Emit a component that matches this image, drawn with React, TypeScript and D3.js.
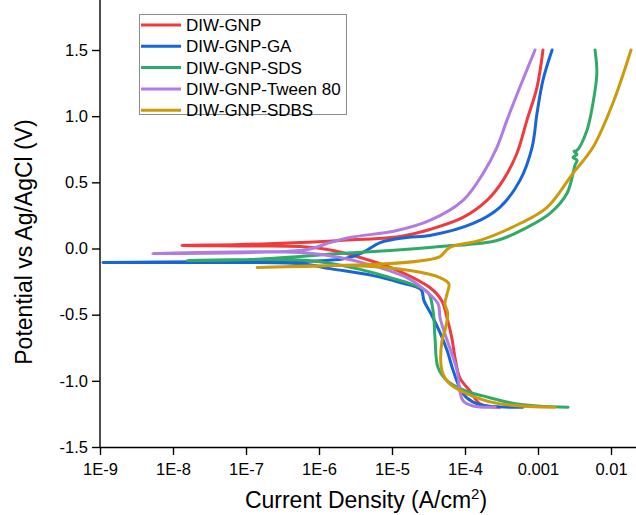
import React, { useRef, useEffect } from 'react';
import * as d3 from 'd3';

// [current density (A/cm2), potential (V)] in scan order: cathodic end -> Ecorr -> anodic end
const diwGnp: [number, number][] = [
  [3.0e-4, -1.2], [1.6e-4, -1.174], [1.17e-4, -1.076], [8.5e-5, -0.977], [7.3e-5, -0.826],
  [6.6e-5, -0.674], [5.8e-5, -0.545], [4.8e-5, -0.394], [3.3e-5, -0.295], [1.29e-5, -0.174],
  [5.0e-6, -0.091], [1.56e-6, -0.015], [5.5e-7, 0.015], [8.3e-8, 0.019], [1.33e-8, 0.023],
  [8.3e-8, 0.03], [5.5e-7, 0.045], [1.94e-6, 0.061], [1.29e-5, 0.091], [3.3e-5, 0.144],
  [9.4e-5, 0.235], [2.0e-4, 0.364], [3.32e-4, 0.515], [5.15e-4, 0.72], [7.06e-4, 0.97],
  [9.7e-4, 1.22], [1.17e-3, 1.5],
];

const diwGnpGa: [number, number][] = [
  [6.2e-4, -1.2], [1.6e-4, -1.18], [1.06e-4, -1.129], [8.5e-5, -1.053], [6.9e-5, -0.924],
  [5.7e-5, -0.773], [4.55e-5, -0.636], [3.53e-5, -0.508], [2.74e-5, -0.394], [2.5e-5, -0.311],
  [1.29e-5, -0.258], [5.5e-6, -0.205], [1.42e-6, -0.152], [5.5e-7, -0.114], [2.34e-8, -0.106],
  [1.1e-9, -0.106], [2.34e-8, -0.1], [5.5e-7, -0.098], [2.27e-6, -0.076], [4.0e-6, -0.03],
  [6.9e-6, 0.045], [1.6e-5, 0.083], [3.3e-5, 0.098], [1.29e-4, 0.189], [3.0e-4, 0.311],
  [5.66e-4, 0.515], [8.3e-4, 0.765], [9.7e-4, 1.023], [1.17e-3, 1.273], [1.56e-3, 1.5],
];

const diwGnpSds: [number, number][] = [
  [2.58e-3, -1.2], [5.15e-4, -1.174], [1.77e-4, -1.114], [1.06e-4, -1.08], [5.7e-5, -1.0],
  [4.27e-5, -0.9], [3.88e-5, -0.674], [3.65e-5, -0.47], [3.11e-5, -0.333], [1.77e-5, -0.265],
  [9.4e-6, -0.22], [3.32e-6, -0.152], [6.9e-7, -0.091], [1.56e-8, -0.091],
  [1.13e-7, -0.083], [1.94e-6, -0.038], [9.4e-6, -0.015], [4.55e-5, 0.015], [2.74e-4, 0.061],
  [7.06e-4, 0.159], [1.46e-3, 0.265], [2.5e-3, 0.417], [3.21e-3, 0.629], [3.42e-3, 0.667],
  [3.01e-3, 0.689], [3.42e-3, 0.712], [3.11e-3, 0.735], [3.42e-3, 0.742], [4.69e-3, 0.894],
  [5.66e-3, 1.098], [6.4e-3, 1.326], [6.04e-3, 1.5],
];

const diwGnpTween: [number, number][] = [
  [2.58e-4, -1.2], [1.29e-4, -1.19], [9.4e-5, -1.15], [8.5e-5, -1.076], [7.8e-5, -0.924],
  [6.6e-5, -0.795], [5.3e-5, -0.644], [4.55e-5, -0.523], [4.27e-5, -0.417], [2.66e-5, -0.303],
  [1.6e-5, -0.22], [5.5e-6, -0.129], [1.94e-6, -0.068], [5.5e-7, -0.03], [5.3e-9, -0.038],
  [1.13e-7, -0.03], [6.9e-7, -0.008], [1.42e-6, 0.045], [2.66e-6, 0.083], [1.17e-5, 0.136],
  [3.3e-5, 0.212], [9.4e-5, 0.364], [1.77e-4, 0.568], [2.74e-4, 0.765], [3.76e-4, 0.97],
  [5.66e-4, 1.22], [9.1e-4, 1.5],
];

const diwGnpSdbs: [number, number][] = [
  [1.71e-3, -1.2], [3.0e-4, -1.174], [1.46e-4, -1.129], [6.2e-5, -1.023], [4.84e-5, -0.924],
  [4.84e-5, -0.697], [5.3e-5, -0.621], [5.8e-5, -0.492], [5.3e-5, -0.417], [5.7e-5, -0.341],
  [6.0e-5, -0.265], [4.55e-5, -0.22], [1.77e-5, -0.167], [2.66e-6, -0.129], [1.42e-7, -0.144],
  [5.5e-7, -0.136], [9.4e-6, -0.114], [3.3e-5, -0.083], [4.55e-5, -0.061], [6.2e-5, 0.008],
  [1.6e-4, 0.061], [5.66e-4, 0.189], [1.33e-3, 0.311], [3.01e-3, 0.568], [5.66e-3, 0.765],
  [1.06e-2, 1.098], [1.88e-2, 1.5],
];

const seriesNames = ['DIW-GNP', 'DIW-GNP-GA', 'DIW-GNP-SDS', 'DIW-GNP-Tween 80', 'DIW-GNP-SDBS'];
const seriesColors = ['#ef3b3d', '#1766d8', '#2faa68', '#b07ce0', '#cc9a0a'];
const seriesData = [diwGnp, diwGnpGa, diwGnpSds, diwGnpTween, diwGnpSdbs];

const xTicks = [1e-9, 1e-8, 1e-7, 1e-6, 1e-5, 1e-4, 1e-3, 1e-2];
const xTickLabels = ['1E-9', '1E-8', '1E-7', '1E-6', '1E-5', '1E-4', '0.001', '0.01'];
const yTicks = [-1.5, -1.0, -0.5, 0.0, 0.5, 1.0, 1.5];
const yTickLabels = ['-1.5', '-1.0', '-0.5', '0.0', '0.5', '1.0', '1.5'];
const yMinorTicks = [-1.25, -0.75, -0.25, 0.25, 0.75, 1.25, 1.75];

const FONT = '"Liberation Sans", Arial, sans-serif';

const App = () => {
  const ref = useRef<SVGSVGElement | null>(null);

  useEffect(() => {
    if (!ref.current) return;
    const svg = d3.select(ref.current);
    svg.selectAll('*').remove();

    const left = 100, right = 636, bottom = 447;
    const x = d3.scaleLog().domain([1e-9, 0.022]).range([left, right]);
    const y = d3.scaleLinear().domain([-1.5, 1.5]).range([bottom, 50]);

    svg.append('clipPath').attr('id', 'plot-clip')
      .append('rect').attr('x', left).attr('y', 0).attr('width', right - left).attr('height', bottom);

    // curves
    const line = d3.line<[number, number]>()
      .x(d => x(d[0]))
      .y(d => y(d[1]))
      .curve(d3.curveCatmullRom.alpha(0.5));

    const g = svg.append('g').attr('clip-path', 'url(#plot-clip)');
    seriesData.forEach((s, i) => {
      g.append('path')
        .datum(s)
        .attr('d', line)
        .attr('fill', 'none')
        .attr('stroke', seriesColors[i])
        .attr('stroke-width', 3)
        .attr('stroke-linejoin', 'round')
        .attr('stroke-linecap', 'round');
    });

    // x axis
    const minorX: number[] = [];
    for (let e = -9; e < -1; e++) {
      for (let m = 2; m <= 9; m++) {
        const v = m * Math.pow(10, e);
        if (v < 0.022) minorX.push(v);
      }
    }
    const xg = svg.append('g').attr('transform', `translate(0,${bottom})`);
    xg.call(d3.axisBottom(x).tickValues(minorX).tickFormat(() => '').tickSize(4).tickSizeOuter(0));
    xg.call(d3.axisBottom(x).tickValues(xTicks).tickFormat((d, i) => xTickLabels[i]).tickSize(8).tickSizeOuter(0));

    // y axis
    const yg = svg.append('g').attr('transform', `translate(${left},0)`);
    yg.append('line').attr('x1', 0).attr('x2', 0).attr('y1', bottom).attr('y2', 0);
    yg.call(d3.axisLeft(y).tickValues(yMinorTicks).tickFormat(() => '').tickSize(4).tickSizeOuter(0));
    yg.call(d3.axisLeft(y).tickValues(yTicks).tickFormat((d, i) => yTickLabels[i]).tickSize(8).tickSizeOuter(0));
    yg.selectAll('.domain').remove();
    yg.select('line').attr('stroke', '#000').attr('stroke-width', 1.4);

    [xg, yg].forEach(a => {
      a.selectAll('.domain').attr('stroke', '#000').attr('stroke-width', 1.4);
      a.selectAll('.tick line').attr('stroke', '#000').attr('stroke-width', 1.4);
      a.selectAll('.tick text').attr('font-family', FONT).attr('font-size', 16.5).attr('fill', '#000');
    });
    xg.selectAll('.tick text').attr('dy', '1.0em');
    yg.selectAll('.tick text').attr('x', -12);

    // axis titles
    const xt = svg.append('text')
      .attr('x', (left + right) / 2 - 2).attr('y', 508)
      .attr('text-anchor', 'middle')
      .attr('font-family', FONT).attr('font-size', 23);
    xt.append('tspan').text('Current Density (A/cm');
    xt.append('tspan').text('2').attr('font-size', 15).attr('dy', -9);
    xt.append('tspan').text(')').attr('dy', 9);

    svg.append('text')
      .attr('transform', `translate(32,242) rotate(-90)`)
      .attr('text-anchor', 'middle')
      .attr('font-family', FONT).attr('font-size', 23)
      .text('Potential vs Ag/AgCl (V)');

    // legend
    const lg = svg.append('g');
    lg.append('rect').attr('x', 139.5).attr('y', 14.5).attr('width', 207).attr('height', 100)
      .attr('fill', '#fff').attr('stroke', '#8c8c8c').attr('stroke-width', 1);
    seriesNames.forEach((name, i) => {
      const ry = 25 + i * 21.3;
      lg.append('line').attr('x1', 141).attr('x2', 181).attr('y1', ry).attr('y2', ry)
        .attr('stroke', seriesColors[i]).attr('stroke-width', 3);
      lg.append('text').attr('x', 186).attr('y', ry).attr('dy', '0.36em')
        .attr('font-family', FONT).attr('font-size', 17).attr('fill', '#000')
        .text(name);
    });
  }, []);

  return (
    <svg ref={ref} width={636} height={515}
      style={{ position: 'absolute', left: 0, top: 0, background: '#fff' }} />
  );
};

export default App;
